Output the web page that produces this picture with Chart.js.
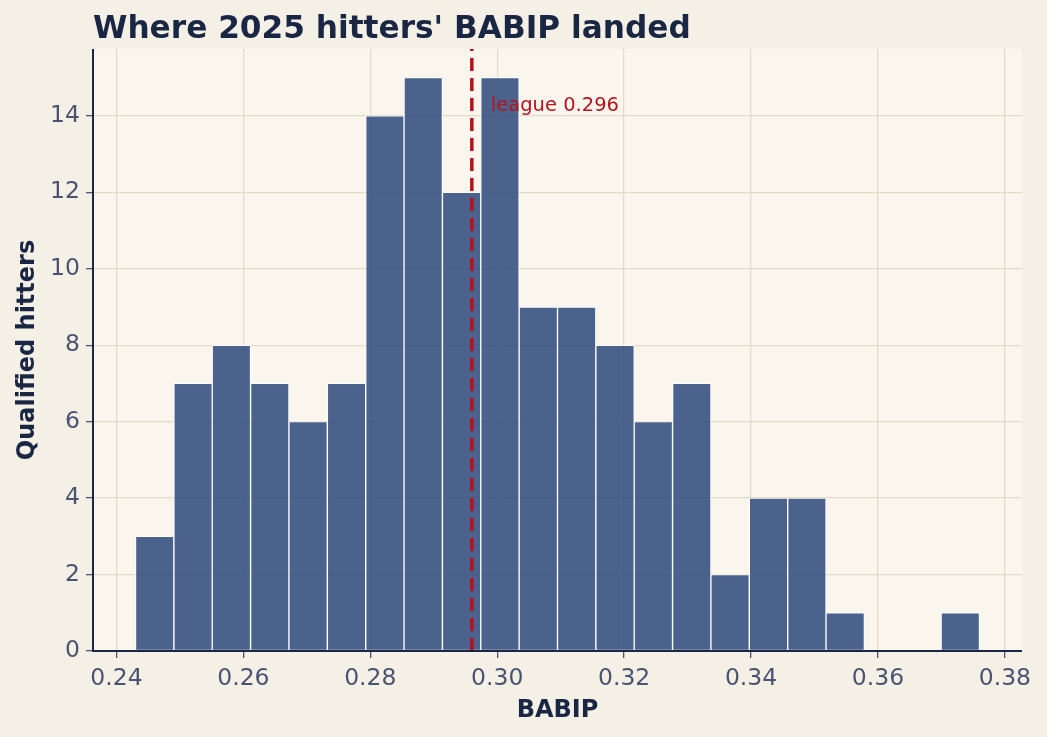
<!DOCTYPE html>
<html>
<head>
<meta charset="utf-8">
<script src="https://cdn.jsdelivr.net/npm/chart.js@4.4.1/dist/chart.umd.min.js"></script>
<style>
  html, body { margin: 0; padding: 0; background: #f5f0e6; }
  #babip-chart { display: block; width: 1047px; height: 737px; }
</style>
</head>
<body>
<canvas id="babip-chart" width="1047" height="737"></canvas>
<script>
// bin centers (BABIP) and qualified hitter counts per bin
var binCenters = [0.24602, 0.25207, 0.25811, 0.26416, 0.27020, 0.27625, 0.28230, 0.28834,
                  0.29439, 0.30043, 0.30648, 0.31252, 0.31857, 0.32461, 0.33066, 0.33670,
                  0.34275, 0.34880, 0.35484, 0.36089, 0.36693, 0.37298];
var hitterCounts = [3, 7, 8, 7, 6, 7, 14, 15, 12, 15, 9, 9, 8, 6, 7, 2, 4, 4, 1, 0, 0, 1];
var leagueBabip = 0.296;
var xTicks = [0.24, 0.26, 0.28, 0.30, 0.32, 0.34, 0.36, 0.38];
var yTicks = [0, 2, 4, 6, 8, 10, 12, 14];
var xRange = [0.2363, 0.3827];
var yRange = [0, 15.75];

var NAVY = '#1a2744';
var TICK = '#4a5472';
var GRID = '#e4dbc5';
var FONT = "'DejaVu Sans', sans-serif";

var histData = binCenters.map(function(c, i) { return {x: c, y: hitterCounts[i]}; });

var plotBg = {
  id: 'plotBg',
  beforeDraw: function(chart) {
    var a = chart.chartArea, ctx = chart.ctx;
    ctx.save();
    ctx.fillStyle = '#faf6ee';
    ctx.fillRect(a.left, a.top, a.right - a.left, a.bottom - a.top);
    ctx.restore();
  },
  afterDraw: function(chart) {
    var a = chart.chartArea, ctx = chart.ctx;
    var xs = chart.scales.x, ys = chart.scales.y;
    ctx.save();
    // title
    ctx.fillStyle = NAVY;
    ctx.font = 'bold 31.2px ' + FONT;
    ctx.textBaseline = 'alphabetic';
    ctx.textAlign = 'left';
    ctx.fillText("Where 2025 hitters' BABIP landed", a.left, 38);
    // league label
    ctx.fillStyle = '#b5121b';
    ctx.font = '19.5px ' + FONT;
    ctx.textBaseline = 'middle';
    ctx.fillText('league ' + leagueBabip.toFixed(3), xs.getPixelForValue(leagueBabip + 0.003), ys.getPixelForValue(14.27));
    // spines on top
    ctx.strokeStyle = NAVY;
    ctx.lineWidth = 2;
    ctx.beginPath();
    ctx.moveTo(a.left, a.top);
    ctx.lineTo(a.left, a.bottom);
    ctx.lineTo(a.right, a.bottom);
    ctx.stroke();
    ctx.restore();
  }
};

var ctx = document.getElementById('babip-chart').getContext('2d');
var chart = new Chart(ctx, {
  data: {
    datasets: [
      {
        type: 'line',
        label: 'league',
        data: [{x: leagueBabip, y: yRange[0]}, {x: leagueBabip, y: yRange[1]}],
        borderColor: '#b5121b',
        borderWidth: 3.5,
        borderDash: [13, 7],
        pointRadius: 0,
        fill: false,
        order: 0
      },
      {
        type: 'bar',
        label: 'Qualified hitters',
        data: histData,
        backgroundColor: 'rgba(44,72,122,0.85)',
        borderColor: 'rgba(255,255,255,0.9)',
        borderWidth: 1,
        borderSkipped: false,
        barPercentage: 1,
        categoryPercentage: 1,
        grouped: false,
        order: 1
      }
    ]
  },
  options: {
    responsive: false,
    animation: false,
    layout: { padding: { top: 49, right: 25, left: 0, bottom: 0 } },
    plugins: { legend: { display: false }, tooltip: { enabled: false } },
    scales: {
      x: {
        type: 'linear',
        offset: false,
        min: xRange[0],
        max: xRange[1],
        afterFit: function(s) { s.height = 86; },
        afterBuildTicks: function(s) { s.ticks = xTicks.map(function(v) { return {value: v}; }); },
        ticks: {
          color: TICK,
          font: { family: FONT, size: 23.5 },
          padding: 7,
          maxRotation: 0,
          autoSkip: false,
          callback: function(v) { return v.toFixed(2); }
        },
        grid: { offset: false, color: GRID, lineWidth: 1.3, tickColor: TICK, tickLength: 7 },
        border: { display: false },
        title: {
          display: true,
          text: 'BABIP',
          color: NAVY,
          font: { family: FONT, size: 24, weight: 'bold' },
          padding: { top: 0, bottom: 12 }
        }
      },
      y: {
        min: yRange[0],
        max: yRange[1],
        afterFit: function(s) { s.width = 93; },
        afterBuildTicks: function(s) { s.ticks = yTicks.map(function(v) { return {value: v}; }); },
        ticks: {
          color: TICK,
          font: { family: FONT, size: 23.5 },
          padding: 6,
          autoSkip: false
        },
        grid: { color: GRID, lineWidth: 1.3, tickColor: TICK, tickLength: 7 },
        border: { display: false },
        title: {
          display: true,
          text: 'Qualified hitters',
          color: NAVY,
          font: { family: FONT, size: 24, weight: 'bold' },
          padding: { top: 13, bottom: 0 }
        }
      }
    }
  },
  plugins: [plotBg]
});
</script>
</body>
</html>
